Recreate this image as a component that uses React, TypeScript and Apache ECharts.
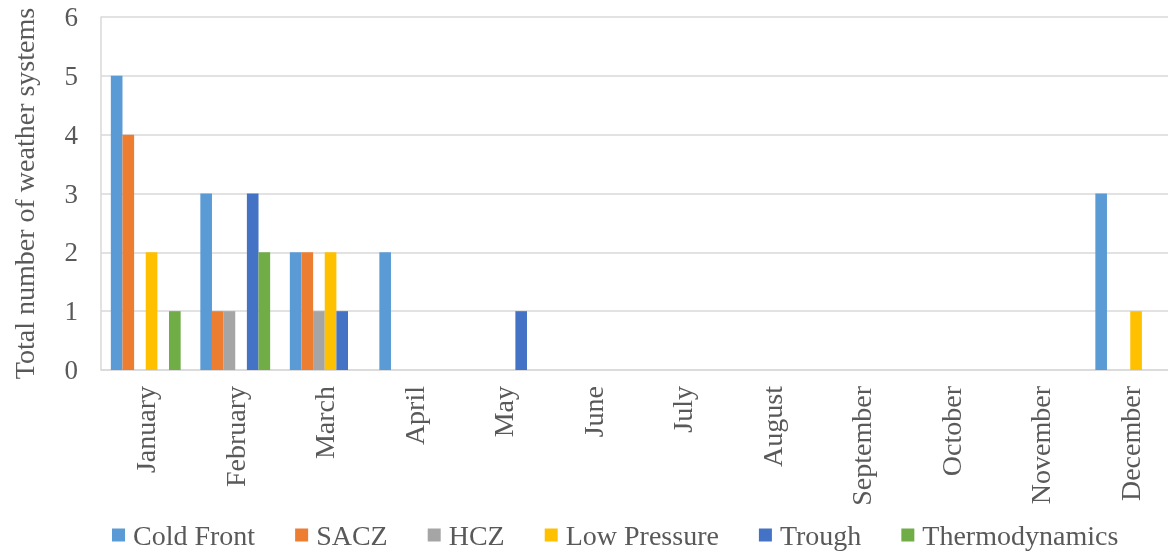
import React, { useEffect, useRef } from "react";
import * as echarts from "echarts";

const months = ["January", "February", "March", "April", "May", "June", "July", "August", "September", "October", "November", "December"];
const coldFront = [5, 3, 2, 2, 0, 0, 0, 0, 0, 0, 0, 3];
const sacz = [4, 1, 2, 0, 0, 0, 0, 0, 0, 0, 0, 0];
const hcz = [0, 1, 1, 0, 0, 0, 0, 0, 0, 0, 0, 0];
const lowPressure = [2, 0, 2, 0, 0, 0, 0, 0, 0, 0, 0, 1];
const trough = [0, 3, 1, 0, 1, 0, 0, 0, 0, 0, 0, 0];
const thermodynamics = [1, 2, 0, 0, 0, 0, 0, 0, 0, 0, 0, 0];
const yTicks = [0, 1, 2, 3, 4, 5, 6];

const seriesDefs = [
  { name: "Cold Front", data: coldFront, color: "#5B9BD5" },
  { name: "SACZ", data: sacz, color: "#ED7D31" },
  { name: "HCZ", data: hcz, color: "#A5A5A5" },
  { name: "Low Pressure", data: lowPressure, color: "#FFC000" },
  { name: "Trough", data: trough, color: "#4472C4" },
  { name: "Thermodynamics", data: thermodynamics, color: "#70AD47" },
];

const FONT = "'Liberation Serif', 'Times New Roman', serif";
const TXT = "#595959";

export default function App() {
  const ref = useRef<HTMLDivElement>(null);
  useEffect(() => {
    if (!ref.current) return;
    const chart = echarts.init(ref.current, null, { renderer: "svg" });
    chart.setOption({
      animation: false,
      textStyle: { fontFamily: FONT },
      grid: { left: 101, right: 0, top: 17, bottom: 183, containLabel: false },
      legend: {
        left: 112,
        top: 521,
        padding: 0,
        itemWidth: 13,
        itemHeight: 13,
        itemGap: 40,
        icon: "rect",
        textStyle: { fontFamily: FONT, fontSize: 28, color: TXT, padding: [0, 0, 0, 3] },
        data: seriesDefs.map((s) => s.name),
      },
      xAxis: {
        type: "category",
        data: months,
        axisLine: { show: true, lineStyle: { color: "#D9D9D9", width: 1.5 } },
        axisTick: { show: false },
        axisLabel: {
          rotate: 90,
          interval: 0,
          margin: 16,
          fontFamily: FONT,
          fontSize: 28,
          color: TXT,
        },
      },
      yAxis: {
        type: "value",
        min: yTicks[0],
        max: yTicks[yTicks.length - 1],
        interval: 1,
        name: "Total number of weather systems",
        nameLocation: "middle",
        nameGap: 63,
        nameTextStyle: { fontFamily: FONT, fontSize: 28, color: TXT },
        axisLine: { show: true, lineStyle: { color: "#D9D9D9", width: 1.5 } },
        axisTick: { show: false },
        axisLabel: { margin: 23, fontFamily: FONT, fontSize: 27, color: TXT },
        splitLine: { show: true, lineStyle: { color: "#D9D9D9", width: 1.5 } },
      },
      series: seriesDefs.map((s) => ({
        name: s.name,
        type: "bar",
        data: s.data,
        barGap: "0%",
        barCategoryGap: "22%",
        itemStyle: { color: s.color },
      })),
    });
    return () => chart.dispose();
  }, []);
  return <div ref={ref} style={{ position: "fixed", left: 0, top: 0, width: 1175, height: 553 }} />;
}
